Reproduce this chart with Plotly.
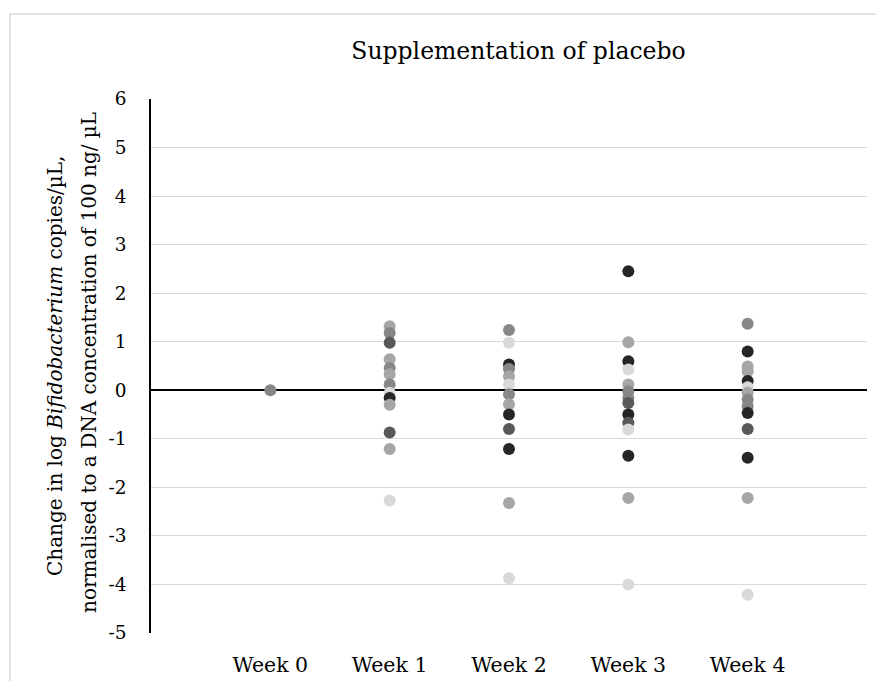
import plotly.graph_objects as go

weeks = ["Week 0", "Week 1", "Week 2", "Week 3", "Week 4"]

week0_values = [0.0]
week0_shades = [2]

week1_values = [1.32, 1.18, 0.98, 0.64, 0.46, 0.33, 0.12, -0.05, -0.16, -0.30, -0.87, -1.21, -2.27]
week1_shades = [3, 2, 1, 3, 2, 3, 2, 4, 0, 3, 1, 3, 4]

week2_values = [1.24, 0.98, 0.53, 0.44, 0.29, 0.12, -0.08, -0.29, -0.50, -0.80, -1.21, -2.32, -3.87]
week2_shades = [2, 4, 0, 2, 3, 4, 2, 3, 0, 1, 0, 3, 4]

week3_values = [2.45, 0.99, 0.60, 0.43, 0.12, -0.02, -0.16, -0.26, -0.50, -0.67, -0.81, -1.35, -2.22, -4.00]
week3_shades = [0, 3, 0, 4, 3, 2, 2, 1, 0, 1, 4, 0, 3, 4]

week4_values = [1.37, 0.80, 0.49, 0.39, 0.19, 0.06, -0.05, -0.19, -0.33, -0.47, -0.80, -1.39, -2.22, -4.21]
week4_shades = [2, 0, 3, 3, 0, 4, 3, 2, 2, 0, 1, 0, 3, 4]

y_ticks = list(range(-5, 7))
y_tick_labels = [str(t) for t in y_ticks]

title_text = "Supplementation of placebo"
y_title_line1 = "Change in log <i>Bifidobacterium</i> copies/µL,"
y_title_line2 = "normalised to a DNA concentration of 100 ng/ µL"

palette = ["#262626", "#595959", "#878787", "#a6a6a6", "#d9d9d9"]

all_values = [week0_values, week1_values, week2_values, week3_values, week4_values]
all_shades = [week0_shades, week1_shades, week2_shades, week3_shades, week4_shades]

xs, ys, cs = [], [], []
for i, (vals, shs) in enumerate(zip(all_values, all_shades)):
    for v, s in zip(vals, shs):
        xs.append(i + 1)
        ys.append(v)
        cs.append(palette[s])

fig = go.Figure()
fig.add_trace(go.Scatter(
    x=xs, y=ys, mode="markers",
    marker=dict(size=12, color=cs, line=dict(width=0)),
    showlegend=False, hoverinfo="y",
))

serif = "DejaVu Serif, serif"

# The page body has an 8px margin; work in screen pixels and subtract it.
OFF = 8
W, H = 884 - OFF, 681 - OFF
L, R, T, B = 151 - OFF, 867 - OFF, 99 - OFF, 633 - OFF
PW, PH = R - L, B - T

def px_x(p):
    return (p - OFF - L) / PW

def px_y(p):
    return (B - (p - OFF)) / PH

fig.update_layout(
    width=W, height=H,
    paper_bgcolor="white", plot_bgcolor="white",
    margin=dict(l=L, r=W - R, t=T, b=H - B, autoexpand=False),
    title=dict(text=title_text, x=(518.5 - OFF) / W, xanchor="center",
               y=1 - (51 - OFF) / H, yanchor="middle",
               font=dict(family=serif, size=23.5, color="#000000")),
    font=dict(family=serif, color="#000000"),
    xaxis=dict(range=[0, 6], tickmode="array", tickvals=[1, 2, 3, 4, 5], ticktext=weeks,
               showgrid=False, zeroline=False, showline=False, ticks="",
               automargin=False,
               tickfont=dict(family=serif, size=20.5, color="#000000"),
               ticklabelstandoff=17),
    yaxis=dict(range=[-5, 6], tickmode="array", tickvals=y_ticks, ticktext=y_tick_labels,
               showgrid=True, gridcolor="#d9d9d9", gridwidth=1.3,
               zeroline=True, zerolinecolor="#000000", zerolinewidth=1.5,
               showline=True, linecolor="#000000", linewidth=1.5,
               automargin=False,
               ticks="", tickfont=dict(family=serif, size=18.5, color="#000000"),
               ticklabelstandoff=19),
    annotations=[
        dict(text=y_title_line1, xref="paper", yref="paper", x=px_x(55), y=px_y(366),
             xanchor="center", yanchor="middle", textangle=-90, showarrow=False,
             font=dict(family=serif, size=20, color="#000000")),
        dict(text=y_title_line2, xref="paper", yref="paper", x=px_x(89), y=px_y(363),
             xanchor="center", yanchor="middle", textangle=-90, showarrow=False,
             font=dict(family=serif, size=20, color="#000000")),
    ],
    shapes=[dict(type="rect", xref="paper", yref="paper",
                 x0=px_x(10), x1=px_x(900), y0=px_y(720), y1=px_y(14),
                 line=dict(color="#d9d9d9", width=1.5), fillcolor="rgba(0,0,0,0)", layer="below")],
)

fig.write_html("out.html")
